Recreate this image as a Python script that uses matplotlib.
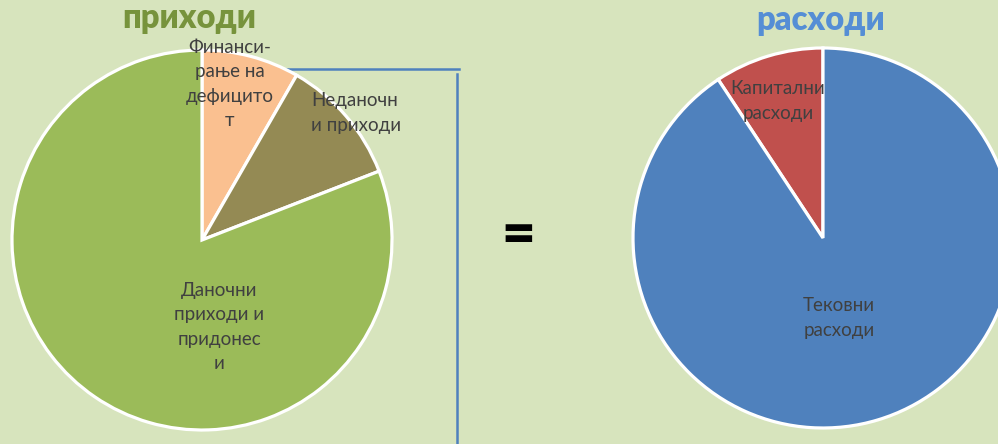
import matplotlib.pyplot as plt

plt.rcParams['font.family'] = ['Lato', 'DejaVu Sans']

# data
income_labels = ['Финанси-\nрање на\nдефицито\nт', 'Неданочн\nи приходи', 'Даночни\nприходи и\nпридонес\nи']
income_values = [8.3, 10.8, 80.9]
income_colors = ['#FAC090', '#948A54', '#9BBB59']

expense_labels = ['Капитални\nрасходи', 'Тековни\nрасходи']
expense_values = [9.3, 90.7]
expense_colors = ['#C0504D', '#4F81BD']

W, H = 998, 444
bg = '#D7E4BD'

fig = plt.figure(figsize=(W / 100, H / 100), dpi=100)
fig.patch.set_facecolor(bg)
ax = fig.add_axes([0, 0, 1, 1])
ax.set_xlim(0, W)
ax.set_ylim(0, H)
ax.set_aspect('equal')
ax.axis('off')


def py(y):
    # pixel row (from top) -> data y
    return H - y


wedge = dict(edgecolor='white', linewidth=2.3)

# connector line
ax.plot([283, 459], [py(69), py(69)], color='#4F81BD', lw=1.8, zorder=0)
ax.plot([457, 457], [py(74), py(444)], color='#4F81BD', lw=1.8, zorder=0)

ax.pie(income_values, colors=income_colors, startangle=90, counterclock=False,
       center=(202, py(240)), radius=190, wedgeprops=wedge, frame=True)
ax.pie(expense_values, colors=expense_colors, startangle=90, counterclock=True,
       center=(823, py(238)), radius=190, wedgeprops=wedge, frame=True)
ax.set_xlim(0, W)
ax.set_ylim(0, H)
ax.axis('off')

txt = dict(fontsize=13.5, color='#404040', linespacing=1.52)
income_pos = [(230, 84, 'center'), (311, 113, 'left'), (219, 327, 'center')]
for lab, (x, y, ha) in zip(income_labels, income_pos):
    ax.text(x, py(y), lab, ha=ha, va='center', multialignment=ha, **txt)

expense_pos = [(778, 101), (839, 318)]
for lab, (x, y) in zip(expense_labels, expense_pos):
    ax.text(x, py(y), lab, ha='center', va='center', **txt)

ax.text(189, py(18), 'приходи', ha='center', va='center', fontsize=23.5,
        fontweight='heavy', color='#77933C')
ax.text(821, py(20), 'расходи', ha='center', va='center', fontsize=23.5,
        fontweight='heavy', color='#558ED5')
ax.text(518, py(236), '=', ha='center', va='center', fontsize=42,
        fontweight='heavy', color='black')

fig.savefig('out.png', dpi=100, facecolor=bg)
